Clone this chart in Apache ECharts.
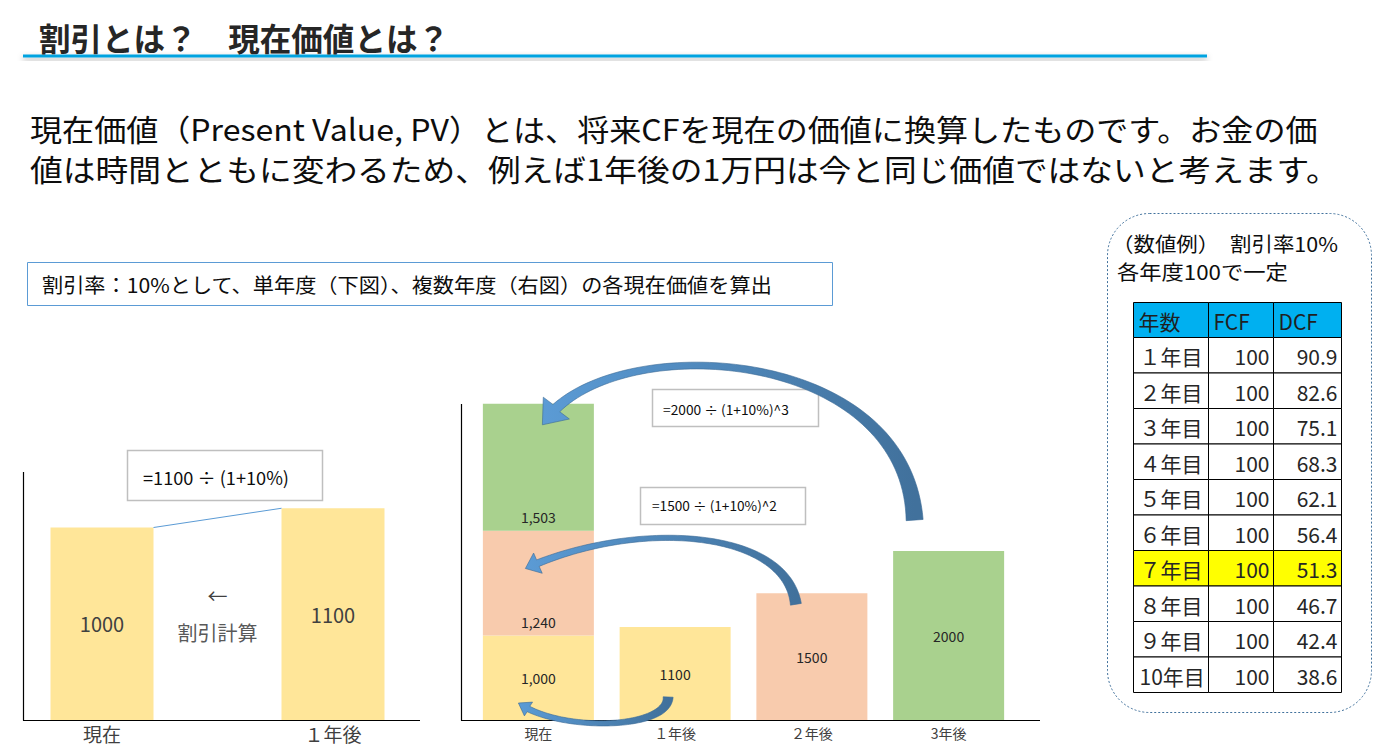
<!DOCTYPE html>
<html><head><meta charset="utf-8">
<script src="https://cdn.jsdelivr.net/npm/echarts@6/dist/echarts.min.js"></script>
<style>html,body{margin:0;padding:0;background:#fff}#c{width:1382px;height:747px}</style>
</head><body><div id="c"></div>
<script>
// ---- data ----
const singleCats = ['現在', '１年後'];
const singleVals = [1000, 1100];
const multiCats = ['現在', '１年後', '２年後', '3年後'];
const pvOfYear1 = [1000, 1100, null, null];
const pvOfYear2 = [1240, null, 1500, null];
const pvOfYear3 = [1503, null, null, 2000];
const tableHeader = ['年数', 'FCF', 'DCF'];
const tableYears = ['１年目','２年目','３年目','４年目','５年目','６年目','７年目','８年目','９年目','10年目'];
const tableFCF = [100, 100, 100, 100, 100, 100, 100, 100, 100, 100];
const tableDCF = ['90.9','82.6','75.1','68.3','62.1','56.4','51.3','46.7','42.4','38.6'];
const highlightRow = 6;
const titleText = '割引とは？　現在価値とは？';
const bodyLines = ['現在価値（Present Value, PV）とは、将来CFを現在の価値に換算したものです。お金の価',
                   '値は時間とともに変わるため、例えば1年後の1万円は今と同じ価値ではないと考えます。'];
const noteText = '割引率：10%として、単年度（下図）、複数年度（右図）の各現在価値を算出';
const exampleLines = ['（数値例）　割引率10%', '各年度100で一定'];
const formulaSingle = '=1100 ÷ (1+10%)';
const formula2 = '=1500 ÷ (1+10%)^2';
const formula3 = '=2000 ÷ (1+10%)^3';

const FONT = '"Noto Sans CJK JP", "Noto Sans", sans-serif';
const chart = echarts.init(document.getElementById('c'), null, {renderer: 'svg'});

function stackData(arr, k) {
  return arr.map((v, i) => {
    if (v == null) return null;
    if (i === 0 && k > 0) return {value: v, label: {position: 'insideBottom', distance: 7}};
    return v;
  });
}
const midLabel = {
  show: true, position: 'inside', fontSize: 14, color: '#262626', fontFamily: FONT,
  formatter: p => p.dataIndex === 0 ? Number(p.value).toLocaleString('en-US') : String(p.value)
};

chart.setOption({
  animation: false,
  grid: [
    {left: -13.5, width: 462, top: 489, height: 231, containLabel: false, outerBoundsMode: 'none'},
    {left: 470, width: 547, top: 399, height: 321, containLabel: false, outerBoundsMode: 'none'}
  ],
  xAxis: [
    {type: 'category', gridIndex: 0, data: singleCats, axisLine: {show: false}, axisTick: {show: false},
     axisLabel: {fontSize: 19, color: '#404040', margin: 4, fontFamily: FONT}},
    {type: 'category', gridIndex: 1, data: multiCats, axisLine: {show: false}, axisTick: {show: false},
     axisLabel: {fontSize: 14, color: '#404040', margin: 6, fontFamily: FONT}}
  ],
  yAxis: [
    {type: 'value', gridIndex: 0, min: 0, max: 1200, show: false},
    {type: 'value', gridIndex: 1, min: 0, max: 3800, show: false}
  ],
  series: [
    {type: 'bar', xAxisIndex: 0, yAxisIndex: 0, data: singleVals, barWidth: 103,
     itemStyle: {color: '#ffe699'},
     label: {show: true, position: 'inside', fontSize: 20, color: '#404040', fontFamily: FONT}},
    {type: 'bar', xAxisIndex: 1, yAxisIndex: 1, stack: 'pv', data: stackData(pvOfYear1, 0), barWidth: 111,
     itemStyle: {color: '#ffe699'}, label: midLabel},
    {type: 'bar', xAxisIndex: 1, yAxisIndex: 1, stack: 'pv', data: stackData(pvOfYear2, 1), barWidth: 111,
     itemStyle: {color: '#f8cbad'}, label: midLabel},
    {type: 'bar', xAxisIndex: 1, yAxisIndex: 1, stack: 'pv', data: stackData(pvOfYear3, 2), barWidth: 111,
     itemStyle: {color: '#a9d18e'}, label: midLabel}
  ]
});

// ---- helpers ----
const mctx = document.createElement('canvas').getContext('2d');
function fitScale(text, size, weight, target) {
  mctx.font = (weight || 'normal') + ' ' + size + 'px ' + FONT;
  const w = mctx.measureText(text).width;
  return w > 0 ? target / w : 1;
}
function txt(text, x, y, size, opts) {
  opts = opts || {};
  const sx = opts.target ? fitScale(text, size, opts.weight, opts.target) : 1;
  return {type: 'text', x: x, y: y, scaleX: sx, z: 100,
    style: {text: text, x: 0, y: 0, fontSize: size, fontFamily: FONT, fontWeight: opts.weight || 'normal',
      fill: opts.color || '#262626', align: opts.align || 'left', textAlign: opts.align || 'left',
      verticalAlign: 'middle', textVerticalAlign: 'middle'}};
}
function rect(x, y, w, h, fill, stroke, lw, extra) {
  return Object.assign({type: 'rect', z: 99, shape: {x: x, y: y, width: w, height: h},
    style: {fill: fill, stroke: stroke, lineWidth: lw || 1}}, extra || {});
}
function line(x1, y1, x2, y2, color, lw) {
  return {type: 'line', z: 100, shape: {x1: x1, y1: y1, x2: x2, y2: y2}, style: {stroke: color, lineWidth: lw || 1}};
}
function cubic(p0, p1, p2, p3, t) {
  const u = 1 - t;
  return [u*u*u*p0[0] + 3*u*u*t*p1[0] + 3*u*t*t*p2[0] + t*t*t*p3[0],
          u*u*u*p0[1] + 3*u*u*t*p1[1] + 3*u*t*t*p2[1] + t*t*t*p3[1]];
}
function arrow(p0, p1, p2, p3, wTail, wMid, wEnd, headLen, headW) {
  const N = 80, pts = [];
  for (let i = 0; i <= N; i++) pts.push(cubic(p0, p1, p2, p3, i / N));
  let h = N;
  while (h > 0 && Math.hypot(pts[h][0] - p3[0], pts[h][1] - p3[1]) < headLen) h--;
  const L = [], R = [];
  for (let i = 0; i <= h; i++) {
    const a = pts[Math.max(i - 1, 0)], b = pts[Math.min(i + 1, N)];
    let dx = b[0] - a[0], dy = b[1] - a[1];
    const len = Math.hypot(dx, dy) || 1; dx /= len; dy /= len;
    const s = i / h;
    const w = wTail*(1-s)*(1-s) + 2*wMid*s*(1-s) + wEnd*s*s;
    L.push([pts[i][0] - dy*w/2, pts[i][1] + dx*w/2]);
    R.push([pts[i][0] + dy*w/2, pts[i][1] - dx*w/2]);
  }
  const base = pts[h];
  let dx = p3[0] - base[0], dy = p3[1] - base[1];
  const len = Math.hypot(dx, dy) || 1; dx /= len; dy /= len;
  const hl = [base[0] - dy*headW/2, base[1] + dx*headW/2];
  const hr = [base[0] + dy*headW/2, base[1] - dx*headW/2];
  const poly = L.concat([hl, p3, hr], R.reverse());
  return {type: 'polygon', z: 110, shape: {points: poly},
    style: {fill: new echarts.graphic.LinearGradient(p3[0], 0, p0[0], 0,
      [{offset: 0, color: '#5b9bd5'}, {offset: 1, color: '#41719c'}], true),
      stroke: '#3a6a96', lineWidth: 0.6}};
}

// ---- pixel anchors from the chart scales ----
const P0 = (c, v) => chart.convertToPixel({xAxisIndex: 0, yAxisIndex: 0}, [c, v]);
const P1 = (c, v) => chart.convertToPixel({xAxisIndex: 1, yAxisIndex: 1}, [c, v]);
const lb0 = P0(singleCats[0], singleVals[0]);
const lb1 = P0(singleCats[1], singleVals[1]);
const m0base = P1(multiCats[0], 0);
const m0seg2Top = P1(multiCats[0], pvOfYear1[0] + pvOfYear2[0]);
const m0top = P1(multiCats[0], pvOfYear1[0] + pvOfYear2[0] + pvOfYear3[0]);
const m0inSeg2 = P1(multiCats[0], pvOfYear1[0] + pvOfYear2[0] * 0.64);
const m1base = P1(multiCats[1], 0);
const m2top = P1(multiCats[2], pvOfYear2[2]);
const m3top = P1(multiCats[3], pvOfYear3[3]);

const g = [];
// title + underline
g.push(rect(23, 54.5, 1184, 3, '#00a3e0', 'none', 0,
  {style: {fill: '#00a3e0', shadowBlur: 6, shadowOffsetY: 3, shadowColor: 'rgba(0,0,0,0.35)'}}));
g.push(txt(titleText, 39, 37, 32, {weight: 'bold', target: 410, color: '#262626'}));
// paragraph
g.push(txt(bodyLines[0], 30, 128, 30, {target: 1288, color: '#0d0d0d'}));
g.push(txt(bodyLines[1], 30, 168, 30, {target: 1310, color: '#0d0d0d'}));
// note box
g.push(rect(27.5, 262.5, 805, 43, '#fff', '#5b9bd5', 1));
g.push(txt(noteText, 42, 284, 20, {target: 731, color: '#0d0d0d'}));
// example box + table
g.push({type: 'rect', z: 98, shape: {x: 1107.5, y: 213.5, width: 264, height: 499, r: 42},
  style: {fill: 'none', stroke: '#41719c', lineWidth: 1, lineDash: [2, 2]}});
g.push(txt(exampleLines[0], 1112, 243, 20, {target: 226, color: '#0d0d0d'}));
g.push(txt(exampleLines[1], 1117, 271, 20, {target: 171, color: '#0d0d0d'}));
const colX = [1133.5, 1208.5, 1273.5, 1341.5];
const headTop = 302.5, headH = 35, rowH = 35.5;
for (let c = 0; c < 3; c++) {
  g.push(rect(colX[c], headTop, colX[c+1] - colX[c], headH, '#00b0f0', '#000', 1));
  g.push(txt(tableHeader[c], colX[c] + 5, headTop + headH/2 + 1, 21, {color: '#1f1f1f'}));
}
for (let r = 0; r < tableYears.length; r++) {
  const y = headTop + headH + r * rowH;
  const fill = r === highlightRow ? '#ffff00' : '#fff';
  for (let c = 0; c < 3; c++) g.push(rect(colX[c], y, colX[c+1] - colX[c], rowH, fill, '#000', 1));
  g.push(txt(tableYears[r], colX[0] + 6, y + rowH/2 + 1, 21, {color: '#262626'}));
  g.push(txt(String(tableFCF[r]), colX[2] - 4, y + rowH/2 + 1, 21, {color: '#262626', align: 'right'}));
  g.push(txt(tableDCF[r], colX[3] - 4, y + rowH/2 + 1, 21, {color: '#262626', align: 'right'}));
}
// left chart axes + annotations
g.push(line(23.5, 472, 23.5, 720.5, '#000', 1.2));
g.push(line(23, 720.5, 420, 720.5, '#000', 1.2));
g.push(line(lb0[0] + 51.5, lb0[1], lb1[0] - 51.5, lb1[1], '#5b9bd5', 1));
g.push(rect(127.5, 450.5, 195, 50, '#fff', '#bfbfbf', 1.5));
g.push(txt(formulaSingle, 143, 477, 18, {target: 146, color: '#0d0d0d'}));
g.push(txt('←', (lb0[0] + lb1[0]) / 2, 595, 20, {color: '#404040', align: 'center'}));
g.push(txt('割引計算', (lb0[0] + lb1[0]) / 2, 632, 20, {color: '#595959', align: 'center'}));
// middle chart axes + annotations
g.push(line(461.5, 404, 461.5, 720.5, '#000', 1.2));
g.push(line(461, 720.5, 1040, 720.5, '#000', 1.2));
g.push(rect(652.5, 389.5, 166, 37, '#fff', '#bfbfbf', 1.5));
g.push(txt(formula3, 663, 409, 13, {target: 126, color: '#0d0d0d'}));
g.push(rect(640.5, 487.5, 165, 37, '#fff', '#bfbfbf', 1.5));
g.push(txt(formula2, 652, 506, 13, {target: 125, color: '#0d0d0d'}));
// arrows (anchored to the bars)
{
  const tail = [m3top[0] - 34, m3top[1] - 31];
  const tip = [m0top[0] + 4, m0top[1] + 21];
  g.push(arrow(tail, [tail[0] - 9, m0top[1] - 62], [tip[0] + 60, m0top[1] - 75], tip, 17, 1, 10, 18, 34));
}
{
  const tail = [m2top[0] - 16, m2top[1] + 11];
  const tip = [m0inSeg2[0] - 13, m0inSeg2[1]];
  g.push(arrow(tail, [tail[0] - 10, m0seg2Top[1] - 2], [tip[0] + 110, m0seg2Top[1] - 12], tip, 11, 2, 7, 12, 22));
}
{
  const tail = [m1base[0] - 7, m1base[1] - 23];
  const tip = [m0base[0] - 20, m0base[1] - 17];
  g.push(arrow(tail, [tail[0], m1base[1] + 10], [tip[0] + 40, m0base[1] + 12], tip, 10, 3, 6, 10, 16));
}
chart.setOption({graphic: {elements: g}});
</script>
</body></html>
